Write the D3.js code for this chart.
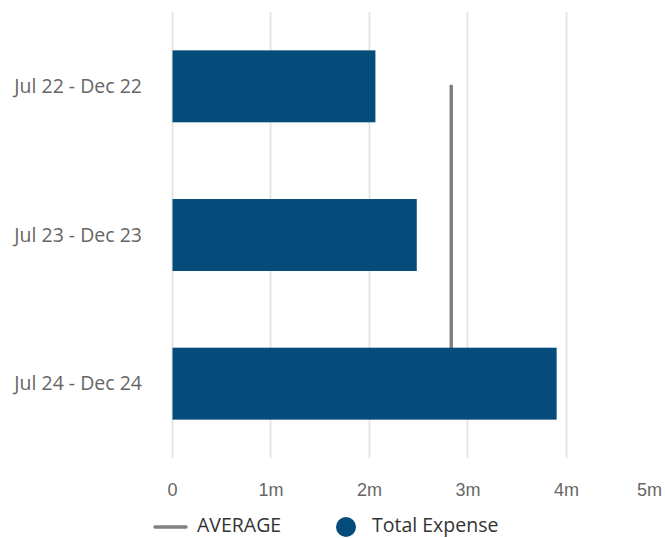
<!DOCTYPE html>
<html>
<head>
<meta charset="utf-8">
<script src="https://cdn.jsdelivr.net/npm/d3@7"></script>
<style>
  body { margin: 0; background: #fff; }
  svg { display: block; }
</style>
</head>
<body>
<div id="chart"></div>
<script>
const periods = ['Jul 22 - Dec 22', 'Jul 23 - Dec 23', 'Jul 24 - Dec 24'];
const totalExpense = [2.06, 2.48, 3.90];
const averageValues = [2.83, 2.83, 2.83];
const xTicks = [0, 1, 2, 3, 4, 5];
const legendLabels = ['AVERAGE', 'Total Expense'];

const width = 665, height = 538;
const plot = { left: 172.5, top: 12, bottom: 458 };

const svg = d3.select('#chart').append('svg')
    .attr('width', width)
    .attr('height', height);

const x = d3.scaleLinear()
    .domain([0, 5])
    .range([plot.left, plot.left + 5 * 98.5]);

const y = d3.scaleBand()
    .domain(periods)
    .range([plot.top, plot.bottom])
    .paddingInner(0.516)
    .paddingOuter(0.258);

// grid lines (the 5m one falls off the edge)
svg.append('g')
    .selectAll('line')
    .data(xTicks.slice(0, 5))
    .enter()
    .append('line')
    .attr('x1', d => Math.round(x(d)) - 0.5)
    .attr('x2', d => Math.round(x(d)) - 0.5)
    .attr('y1', plot.top)
    .attr('y2', plot.bottom)
    .attr('stroke', '#e6e6e6')
    .attr('stroke-width', 2);

// x tick labels
svg.append('g')
    .selectAll('text')
    .data(xTicks)
    .enter()
    .append('text')
    .attr('x', d => d === 5 ? 662 : x(d))
    .attr('y', 496)
    .attr('text-anchor', d => d === 5 ? 'end' : 'middle')
    .attr('font-family', "'Liberation Sans', Arial, sans-serif")
    .attr('font-size', 18)
    .attr('fill', '#666')
    .text(d => d === 0 ? '0' : d + 'm');

// category labels
svg.append('g')
    .selectAll('text')
    .data(periods)
    .enter()
    .append('text')
    .attr('x', 142)
    .attr('y', d => y(d) + y.bandwidth() / 2)
    .attr('dy', '0.35em')
    .attr('text-anchor', 'end')
    .attr('font-family', "'Open Sans', sans-serif")
    .attr('font-size', 19.5)
    .attr('fill', '#666')
    .text(d => d);

// average line (behind the bars)
const avgLine = d3.line()
    .x(d => x(d))
    .y((d, i) => y(periods[i]) + y.bandwidth() / 2);

svg.append('path')
    .attr('fill', 'none')
    .attr('stroke', '#808080')
    .attr('stroke-width', 3.5)
    .attr('stroke-linecap', 'round')
    .attr('d', avgLine(averageValues));

// bars
svg.append('g')
    .selectAll('rect')
    .data(totalExpense)
    .enter()
    .append('rect')
    .attr('x', x(0))
    .attr('y', (d, i) => y(periods[i]))
    .attr('width', d => x(d) - x(0))
    .attr('height', y.bandwidth())
    .attr('fill', '#054c7a');

// legend
const legend = svg.append('g')
    .attr('font-family', "'Open Sans', sans-serif")
    .attr('font-size', 19.5)
    .attr('fill', '#333');

legend.append('line')
    .attr('x1', 155).attr('x2', 186)
    .attr('y1', 527).attr('y2', 527)
    .attr('stroke', '#808080')
    .attr('stroke-width', 3.5)
    .attr('stroke-linecap', 'round');

legend.append('text')
    .attr('x', 197)
    .attr('y', 531.5)
    .text(legendLabels[0]);

legend.append('circle')
    .attr('cx', 346)
    .attr('cy', 527)
    .attr('r', 10)
    .attr('fill', '#054c7a');

legend.append('text')
    .attr('x', 372)
    .attr('y', 531.5)
    .text(legendLabels[1]);
</script>
</body>
</html>
